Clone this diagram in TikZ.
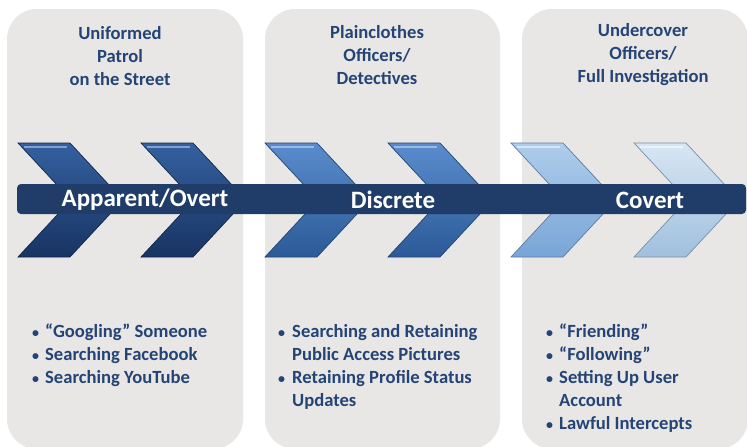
\documentclass[tikz,border=0pt]{standalone}
\usepackage{fontspec}
\setmainfont{Carlito}
\definecolor{panel}{RGB}{232,231,229}
\definecolor{txt}{RGB}{36,68,118}
\definecolor{barc}{RGB}{31,61,104}
\definecolor{ca1}{RGB}{24,52,98}
\definecolor{ca2}{RGB}{52,96,160}
\definecolor{cb1}{RGB}{44,90,152}
\definecolor{cb2}{RGB}{90,140,205}
\definecolor{cc1}{RGB}{120,165,215}
\definecolor{cc2}{RGB}{175,205,235}
\definecolor{cd1}{RGB}{160,192,222}
\definecolor{cd2}{RGB}{215,230,243}
\newcommand\mychev[4]{%
  \draw[draw=#2!75!black, line width=0.7pt, top color=#3, bottom color=#2]
    (#1,143) -- ++(52,0) -- ++(53,57) -- ++(-53,57) -- ++(-52,0) -- ++(53,-57) -- cycle;
  \draw[#4, line width=2pt] (#1+6,147) -- (#1+49,147);
}
\begin{document}
\begin{tikzpicture}[x=1pt,y=-1pt,
  head/.style={align=center, text=txt, font=\fontsize{18.6}{23}\selectfont\bfseries},
  item/.style={anchor=base west, text=txt, inner sep=0pt, font=\fontsize{18.6}{23}\selectfont\bfseries},
  dot/.style={anchor=base west, text=txt, inner sep=0pt, font=\fontsize{14}{23}\selectfont\bfseries},
  barlabel/.style={text=white, font=\fontsize{25}{28}\selectfont\bfseries}]
\useasboundingbox (0,0) rectangle (747,447);
\clip (0,0) rectangle (747,447);
\fill[white] (0,0) rectangle (747,447);
\fill[panel, rounded corners=30pt] (7,9) rectangle (243,449);
\fill[panel, rounded corners=30pt] (265,9) rectangle (500,449);
\fill[panel, rounded corners=30pt] (522,9) rectangle (748,449);
% chevrons
\mychev{18}{ca1}{ca2}{ca2!60!white}
\mychev{141}{ca1}{ca2}{ca2!60!white}
\mychev{265}{cb1}{cb2}{cb2!60!white}
\mychev{388}{cb1}{cb2}{cb2!60!white}
\mychev{511}{cc1}{cc2}{cc2!50!white}
\mychev{634}{cd1}{cd2}{cd2!50!white}
% bar
\fill[barc, rounded corners=4pt] (17,184) rectangle (746,214);
\node[barlabel] (l1) at (145,200) {Apparent/Overt};
\node[barlabel] (l2) at (393,200) {Discrete};
\node[barlabel] (l3) at (650,200) {Covert};
% headers
\node[head] (h1) at (120,56) {Uniformed\\Patrol\\on the Street};
\node[head] (h2) at (377,55) {Plainclothes\\Officers/\\Detectives};
\node[head] (h3) at (643,55) {Undercover\\Officers/\\Full Investigation};
% bullets panel 1
\foreach \y/\t [count=\i] in {337/{“Googling” Someone},360/{Searching Facebook},383/{Searching YouTube}}{
  \node[dot] (da\i) at (32,\y) {•};
  \node[item] (ta\i) at (45,\y) {\t};
}
% panel 2
\node[dot] (db1) at (278,337) {•};
\node[item] (tb1) at (292,337) {Searching and Retaining};
\node[item] (tb2) at (292,360) {Public Access Pictures};
\node[dot] (db3) at (278,383) {•};
\node[item] (tb3) at (292,383) {Retaining Profile Status};
\node[item] (tb4) at (292,406) {Updates};
% panel 3
\node[dot] (dc1) at (546,337) {•};
\node[item] (tc1) at (559,337) {“Friending”};
\node[dot] (dc2) at (546,360) {•};
\node[item] (tc2) at (559,360) {“Following”};
\node[dot] (dc3) at (546,383) {•};
\node[item] (tc3) at (559,383) {Setting Up User};
\node[item] (tc4) at (559,406) {Account};
\node[dot] (dc5) at (546,429) {•};
\node[item] (tc5) at (559,429) {Lawful Intercepts};
\end{tikzpicture}
\end{document}
